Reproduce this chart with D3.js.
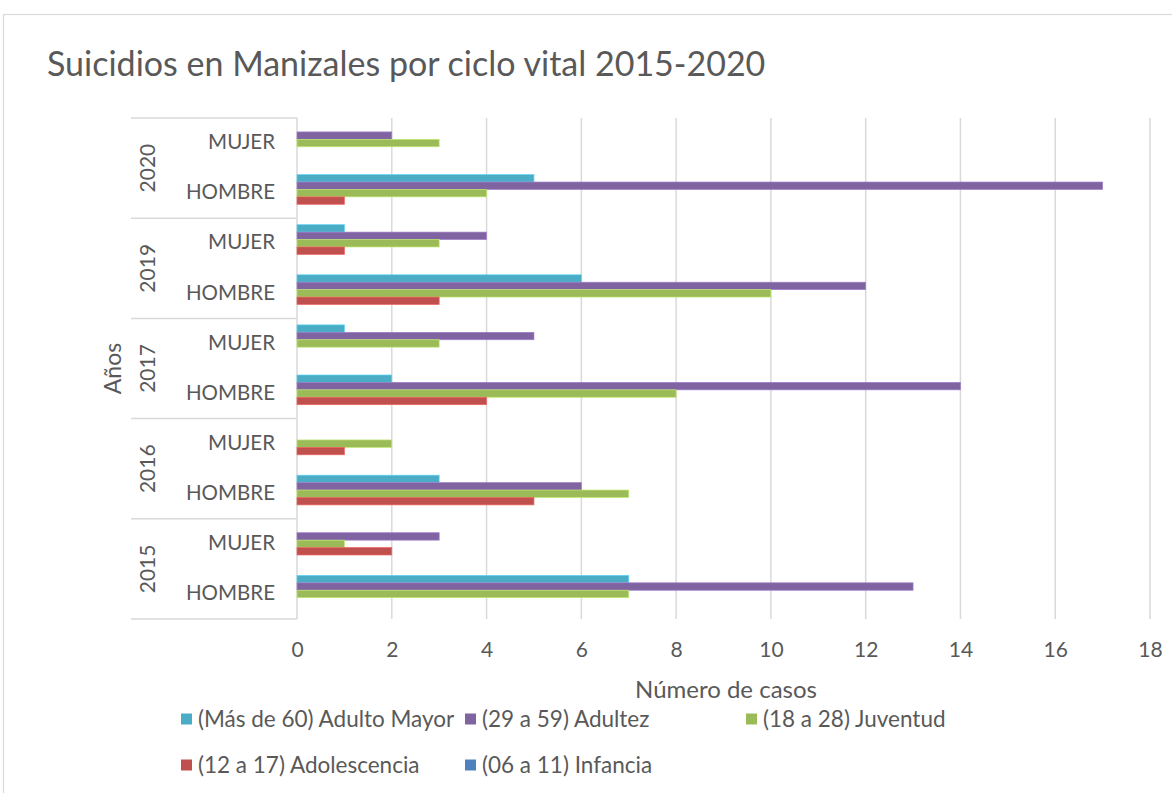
<!DOCTYPE html>
<meta charset="utf-8">
<title>Suicidios en Manizales por ciclo vital 2015-2020</title>
<style>
body { margin: 0; background: #fff; font-family: Lato, "Open Sans", sans-serif; }
svg text { fill: #595959; }
.grid line { stroke: #d9d9d9; stroke-width: 1.5px; }
</style>
<body>
<svg width="1172" height="793"></svg>
<script src="https://d3js.org/d3.v7.min.js"></script>
<script>
// years top to bottom, as in the chart
var years = ["2020", "2019", "2017", "2016", "2015"];
var sexes = ["MUJER", "HOMBRE"];
var series = ["(Más de 60) Adulto Mayor", "(29 a 59) Adultez", "(18 a 28) Juventud", "(12 a 17) Adolescencia", "(06 a 11) Infancia"];
var colors = ["#4bacc6", "#8064a2", "#9bbb59", "#c0504d", "#4f81bd"];
var xTicks = [0, 2, 4, 6, 8, 10, 12, 14, 16, 18];

// one row per year+sex, values in series order
var adultoMayor  = [0, 5, 1, 6, 1, 2, 0, 3, 0, 7];
var adultez      = [2, 17, 4, 12, 5, 14, 0, 6, 3, 13];
var juventud     = [3, 4, 3, 10, 3, 8, 2, 7, 1, 7];
var adolescencia = [0, 1, 1, 3, 0, 4, 1, 5, 2, 0];
var infancia     = [0, 0, 0, 0, 0, 0, 0, 0, 0, 0];

var cats = [];
years.forEach(function(y) { sexes.forEach(function(s) { cats.push({year: y, sex: s, key: y + s}); }); });
var allVals = [adultoMayor, adultez, juventud, adolescencia, infancia];
cats.forEach(function(c, i) {
  c.values = series.map(function(s, j) { return {series: s, idx: j, value: allVals[j][i]}; });
});

var svg = d3.select("svg");
var plotLeft = 297, plotRight = 1150, plotTop = 118, plotBottom = 619;

// outer frame
svg.append("rect").attr("x", 3.5).attr("y", 14.5).attr("width", 1180).attr("height", 800)
  .attr("fill", "none").attr("stroke", "#d9d9d9").attr("stroke-width", 1.2);

svg.append("text").attr("x", 47).attr("y", 76)
  .style("font-size", "34px").text("Suicidios en Manizales por ciclo vital 2015-2020");

var x = d3.scaleLinear().domain([0, 18]).range([plotLeft, plotRight]);
var y = d3.scaleBand().domain(cats.map(function(c) { return c.key; })).range([plotTop, plotBottom]);
var yIn = d3.scaleBand().domain(d3.range(series.length)).range([6.5, y.bandwidth() - 6.5]);

// gridlines
svg.append("g").attr("class", "grid").selectAll("line").data(xTicks.slice(1)).enter().append("line")
  .attr("x1", function(d) { return x(d); }).attr("x2", function(d) { return x(d); })
  .attr("y1", plotTop).attr("y2", plotBottom);

// category axis line + group separators
svg.append("line").attr("x1", plotLeft).attr("x2", plotLeft).attr("y1", plotTop).attr("y2", plotBottom)
  .attr("stroke", "#d9d9d9").attr("stroke-width", 1.5);
var seps = years.map(function(yr) { return y(yr + "MUJER"); }).concat([plotBottom]);
svg.append("g").selectAll("line").data(seps).enter().append("line")
  .attr("x1", 131).attr("x2", plotLeft).attr("y1", function(d) { return d; }).attr("y2", function(d) { return d; })
  .attr("stroke", "#d9d9d9").attr("stroke-width", 1.5);

// bars
var row = svg.append("g").selectAll("g").data(cats).enter().append("g")
  .attr("transform", function(c) { return "translate(0," + y(c.key) + ")"; });
row.selectAll("rect").data(function(c) { return c.values.filter(function(v) { return v.value > 0; }); })
  .enter().append("rect")
  .attr("x", x(0)).attr("y", function(d) { return yIn(d.idx); })
  .attr("width", function(d) { return x(d.value) - x(0); })
  .attr("height", yIn.bandwidth())
  .attr("fill", function(d) { return colors[d.idx]; })
  .attr("stroke", function(d) { return d3.color(colors[d.idx]).brighter(0.6); })
  .attr("stroke-width", 0.7);

// sex labels
svg.append("g").selectAll("text").data(cats).enter().append("text")
  .attr("x", 275).attr("y", function(c) { return y(c.key) + y.bandwidth() / 2 - 1; })
  .attr("dy", "0.35em").attr("text-anchor", "end").style("font-size", "20.5px")
  .text(function(c) { return c.sex; });

// year labels
svg.append("g").selectAll("text").data(years).enter().append("text")
  .attr("transform", function(yr) { return "translate(148," + (y(yr + "MUJER") + y.bandwidth()) + ") rotate(-90)"; })
  .attr("dy", "0.35em").attr("text-anchor", "middle").style("font-size", "21px")
  .text(function(yr) { return yr; });

// value axis
var xAxis = d3.axisBottom(x).tickValues(xTicks).tickSize(0).tickPadding(23);
var gx = svg.append("g").attr("transform", "translate(0," + plotBottom + ")").call(xAxis);
gx.select(".domain").remove();
gx.selectAll("text").style("font-size", "21px").style("font-family", "Lato, sans-serif").attr("fill", "#595959");

svg.append("text").attr("x", 726).attr("y", 698).attr("text-anchor", "middle")
  .style("font-size", "24px").text("Número de casos");
svg.append("text").attr("transform", "translate(113," + ((plotTop + plotBottom) / 2) + ") rotate(-90)")
  .attr("dy", "0.35em").attr("text-anchor", "middle").style("font-size", "23px").text("Años");

// legend
var legendPos = [[181, 719], [465, 719], [746, 719], [181, 765], [465, 765]];
var leg = svg.append("g").selectAll("g").data(series).enter().append("g")
  .attr("transform", function(d, i) { return "translate(" + legendPos[i][0] + "," + legendPos[i][1] + ")"; });
leg.append("rect").attr("x", 0).attr("y", -5.5).attr("width", 11).attr("height", 11)
  .attr("fill", function(d, i) { return colors[i]; });
leg.append("text").attr("x", 17).attr("dy", "0.35em").style("font-size", "22.5px").text(function(d) { return d; });
</script>
</body>
